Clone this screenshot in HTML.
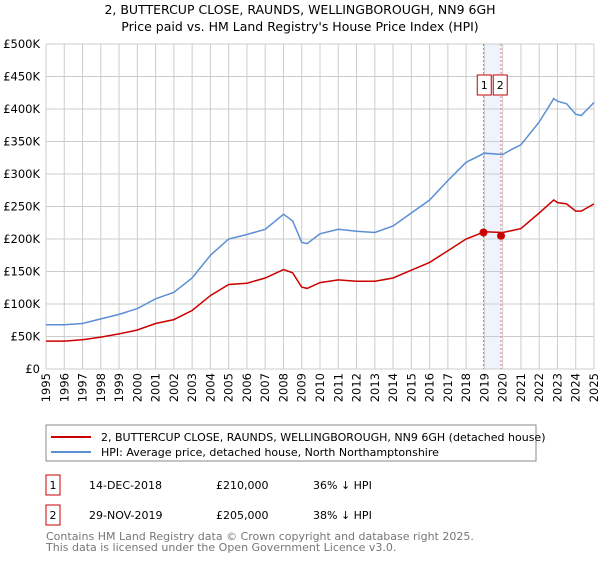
<!DOCTYPE html>
<html><head><meta charset="utf-8"><style>
body{margin:0;background:#fff;font-family:"Liberation Sans","DejaVu Sans",sans-serif;}
svg text{font-family:"DejaVu Sans","Liberation Sans",sans-serif;}
</style></head><body>
<svg id="chart" width="600" height="560" xmlns="http://www.w3.org/2000/svg">
<text x="300" y="14" text-anchor="middle" font-size="12.5">2, BUTTERCUP CLOSE, RAUNDS, WELLINGBOROUGH, NN9 6GH</text>
<text x="300" y="31" text-anchor="middle" font-size="12.5">Price paid vs. HM Land Registry's House Price Index (HPI)</text>
<g id="grid"></g><g id="marks"></g><g id="axes"></g>
<rect x="46" y="425" width="490" height="36" fill="#fff" stroke="#888"/>
<line x1="51" y1="437" x2="91" y2="437" stroke="#cc0000" stroke-width="2"/>
<text x="101" y="441" font-size="11">2, BUTTERCUP CLOSE, RAUNDS, WELLINGBOROUGH, NN9 6GH (detached house)</text>
<line x1="51" y1="452" x2="91" y2="452" stroke="#5b8fd4" stroke-width="2"/>
<text x="101" y="456" font-size="11">HPI: Average price, detached house, North Northamptonshire</text>
<g>
<rect x="46" y="475" width="14" height="20" fill="#fff" stroke="#cc0000"/><text x="53" y="489" text-anchor="middle" font-size="11">1</text>
<text x="89" y="489" font-size="11">14-DEC-2018</text><text x="216" y="489" font-size="11">£210,000</text><text x="313" y="489" font-size="11">36% ↓ HPI</text></g>
<g>
<rect x="46" y="505" width="14" height="20" fill="#fff" stroke="#cc0000"/><text x="53" y="519" text-anchor="middle" font-size="11">2</text>
<text x="89" y="519" font-size="11">29-NOV-2019</text><text x="216" y="519" font-size="11">£205,000</text><text x="313" y="519" font-size="11">38% ↓ HPI</text></g>
<text x="46" y="540" font-size="11" fill="#777">Contains HM Land Registry data © Crown copyright and database right 2025.</text>
<text x="46" y="551" font-size="11" fill="#777">This data is licensed under the Open Government Licence v3.0.</text>
</svg>
<script>
const years=[1995,1996,1997,1998,1999,2000,2001,2002,2003,2004,2005,2006,2007,2008,2008.5,2009,2009.3,2010,2011,2012,2013,2014,2015,2016,2017,2018,2019,2020,2020.5,2021,2022,2022.8,2023,2023.5,2024,2024.3,2025];
const hpiValues=[68,68,70,77,84,93,108,118,140,175,200,207,215,238,228,195,193,208,215,212,210,220,240,260,290,318,332,330,338,345,380,416,412,408,392,390,410];
const propertyValues=[43,43,45,49,54,60,70,76,90,113,130,132,140,153,148,126,124,133,137,135,135,140,152,164,182,200,211,210,213,216,240,260,256,254,243,243,254];
const saleDates=[2018.95,2019.91];
const salePrices=[210,205];
const saleLabels=["1","2"];
const yTicks=[0,50,100,150,200,250,300,350,400,450,500];
const yTickLabels=["£0","£50K","£100K","£150K","£200K","£250K","£300K","£350K","£400K","£450K","£500K"];
const xTicks=[];for(let y=1995;y<=2025;y++)xTicks.push(y);
const X0=46,X1=594,Y0=369,Y1=44;
const xs=v=>X0+(v-1995)/30*(X1-X0);
const ys=v=>Y0-v/500*(Y0-Y1);
const NS="http://www.w3.org/2000/svg";
function mk(p,t,a){const e=document.createElementNS(NS,t);for(const k in a)e.setAttribute(k,a[k]);p.appendChild(e);return e;}
const grid=document.getElementById('grid'),marks=document.getElementById('marks'),axes=document.getElementById('axes');
const band=mk(grid,'rect',{x:xs(saleDates[0]),y:Y1,width:xs(saleDates[1])-xs(saleDates[0]),height:Y0-Y1,fill:'#eef3fc'});


xTicks.forEach(t=>{const l=mk(grid,'line',{x1:xs(t),x2:xs(t),y1:Y1,y2:Y0,stroke:'#ccc'});


const tx=mk(axes,'text',{x:0,y:0,'font-size':11.5,'text-anchor':'end',transform:`translate(${xs(t)+4},${Y0+4}) rotate(-90)`});tx.textContent=t;

});
yTicks.forEach((t,i)=>{const l=mk(grid,'line',{x1:X0,x2:X1,y1:ys(t),y2:ys(t),stroke:'#ccc'});


const tx=mk(axes,'text',{x:X0-6,y:ys(t)+4,'font-size':11.5,'text-anchor':'end'});tx.textContent=yTickLabels[i];

});
saleDates.forEach((d,i)=>{const l=mk(grid,'line',{x1:xs(d),x2:xs(d),y1:Y1,y2:Y0,stroke:'#f07070','stroke-dasharray':'2,2'});

});
function path(vals,color,name){const d=years.map((y,i)=>(i?'L':'M')+xs(y).toFixed(1)+','+ys(vals[i]).toFixed(1)).join('');
const p=mk(marks,'path',{d:d,fill:'none',stroke:color,'stroke-width':1.5});

}
path(hpiValues,'#5b8fd4','hpi-line');
path(propertyValues,'#cc0000','property-line');
const mid=(xs(saleDates[0])+xs(saleDates[1]))/2;
saleDates.forEach((d,i)=>{const c=mk(marks,'circle',{cx:xs(d),cy:ys(salePrices[i]),r:4,fill:'#cc0000'});


const bx=i==0?mid-15:mid+1;
const r=mk(marks,'rect',{x:bx,y:75,width:14,height:20,fill:'#fff',stroke:'#cc0000'});


const t=mk(marks,'text',{x:bx+7,y:89,'font-size':11,'text-anchor':'middle'});t.textContent=saleLabels[i];

});
</script>
</body></html>
